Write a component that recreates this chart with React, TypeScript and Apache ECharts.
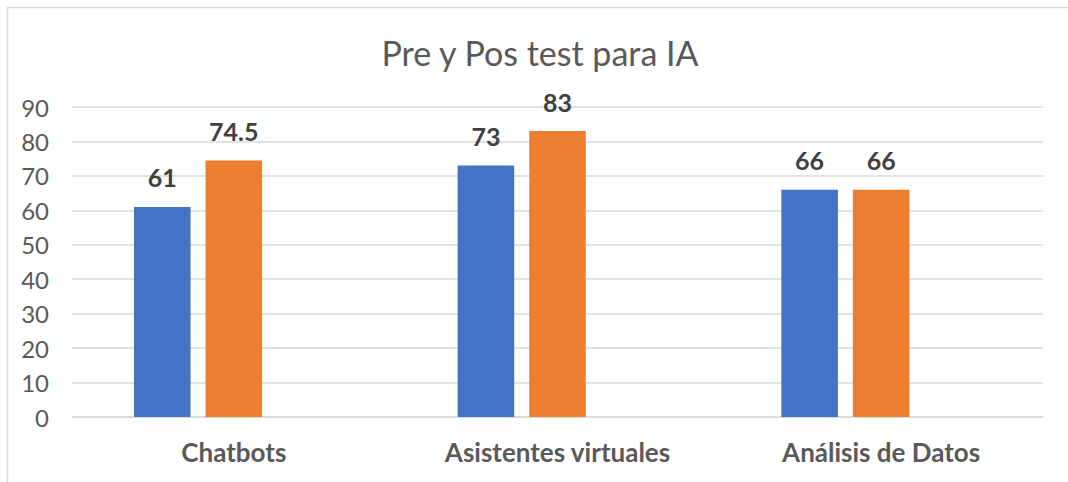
import React, { useEffect, useRef } from "react";
import * as echarts from "echarts";

const categories = ["Chatbots", "Asistentes virtuales", "Análisis de Datos"];
const preTest = [61, 73, 66];
const posTest = [74.5, 83, 66];
const emptySeries = ["-", "-", "-"];
const yMin = 0;
const yMax = 90;
const yStep = 10;
const title = "Pre y Pos test para IA";

export default function App() {
  const ref = useRef<HTMLDivElement>(null);
  useEffect(() => {
    document.body.style.margin = "0";
    const chart = echarts.init(ref.current!, null, { renderer: "svg" });
    const font = "Lato, 'Open Sans', sans-serif";
    const labelStyle = {
      show: true,
      position: "top" as const,
      distance: 17,
      color: "#404040",
      fontSize: 25,
      fontWeight: "bold" as const,
      fontFamily: font,
    };
    chart.setOption({
      animation: false,
      backgroundColor: "#ffffff",
      textStyle: { fontFamily: font },
      title: {
        text: title,
        left: 535,
        top: 30,
        textAlign: "center",
        textStyle: { color: "#595959", fontSize: 34, fontWeight: "normal", fontFamily: font },
      },
      graphic: [
        {
          type: "rect",
          shape: { x: 7.5, y: 7.5, width: 1100, height: 500 },
          style: { fill: "none", stroke: "#d9d9d9", lineWidth: 1.5 },
          z: -1,
        },
      ],
      grid: { left: 72, right: 25, top: 107, bottom: 65, containLabel: false },
      xAxis: {
        type: "category",
        data: categories,
        axisLine: { show: true, lineStyle: { color: "#d9d9d9", width: 1.5 } },
        axisTick: { show: false },
        axisLabel: {
          color: "#595959",
          fontSize: 26,
          fontWeight: "bold",
          fontFamily: font,
          margin: 22,
        },
      },
      yAxis: {
        type: "value",
        min: yMin,
        max: yMax,
        interval: yStep,
        axisLine: { show: false },
        axisTick: { show: false },
        splitLine: { lineStyle: { color: "#d9d9d9", width: 1.5 } },
        axisLabel: { color: "#595959", fontSize: 24, fontFamily: font, margin: 23 },
      },
      series: [
        {
          name: "Pre test",
          type: "bar",
          data: preTest,
          itemStyle: { color: "#4472C4" },
          barGap: "26.5%",
          barCategoryGap: "38.3%",
          label: labelStyle,
        },
        {
          name: "Pos test",
          type: "bar",
          data: posTest,
          itemStyle: { color: "#ED7D31" },
          label: labelStyle,
        },
        {
          name: "Serie 3",
          type: "bar",
          data: emptySeries,
          itemStyle: { color: "#A5A5A5" },
        },
      ],
    });
    return () => chart.dispose();
  }, []);
  return (
    <div
      ref={ref}
      style={{ position: "fixed", left: 0, top: 0, width: 1068, height: 482 }}
    />
  );
}
